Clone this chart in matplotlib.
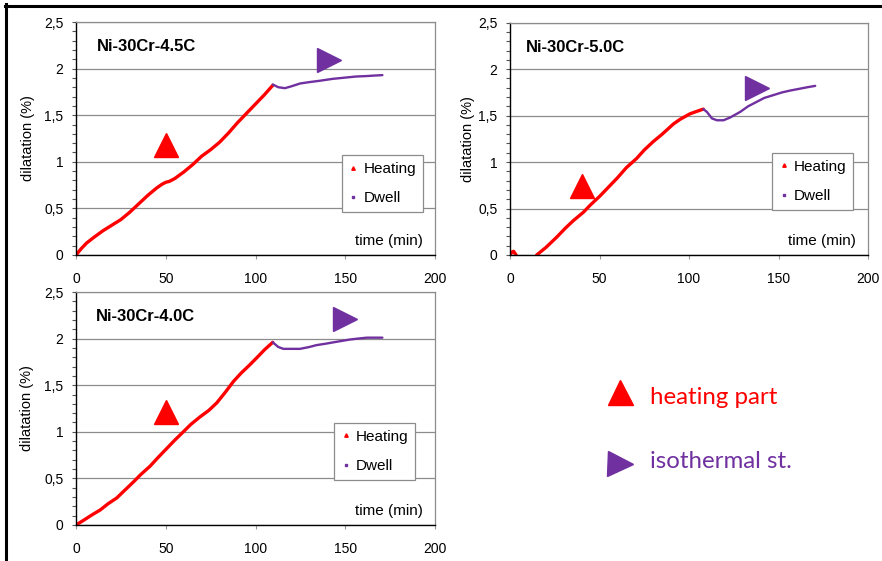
import numpy as np
import matplotlib
matplotlib.use("Agg")
import matplotlib.pyplot as plt
from matplotlib.lines import Line2D
from matplotlib.ticker import MultipleLocator, FuncFormatter

# ---- data: dilatation (%) versus time (min) ----
titles = ["Ni-30Cr-4.5C", "Ni-30Cr-5.0C", "Ni-30Cr-4.0C"]

# Ni-30Cr-4.5C
heat45_t = [0, 3, 6, 10, 15, 20, 25, 30, 35, 40, 45, 48, 50, 52, 55, 60, 65, 70, 75, 80, 85, 90, 95, 100, 105, 109.6]
heat45_d = [0, 0.07, 0.13, 0.19, 0.26, 0.32, 0.38, 0.46, 0.55, 0.64, 0.72, 0.76, 0.78, 0.79, 0.82, 0.89, 0.97, 1.06, 1.13, 1.21, 1.31, 1.42, 1.52, 1.62, 1.72, 1.82]
dwell45_t = [109.6, 112.7, 116.4, 120, 124.8, 130, 136, 143, 150.8, 156, 162, 166, 170.7]
dwell45_d = [1.83, 1.80, 1.79, 1.81, 1.84, 1.855, 1.87, 1.89, 1.905, 1.915, 1.92, 1.925, 1.93]

# Ni-30Cr-5.0C
heat50_t = [0, 1, 2, 3.4, np.nan, 14.9, 20, 26, 31, 35.4, 41, 45, 50, 55, 60, 65, 70.8, 75, 80, 85, 91.3, 95, 100.6, 105, 108]
heat50_d = [0, 0.03, 0.04, 0.0, np.nan, 0, 0.08, 0.19, 0.29, 0.37, 0.46, 0.54, 0.63, 0.73, 0.83, 0.94, 1.04, 1.13, 1.22, 1.30, 1.41, 1.46, 1.52, 1.55, 1.57]
dwell50_t = [108, 110, 112.8, 115.6, 119.3, 123, 128.6, 133, 138, 142, 147, 152, 156.6, 162, 166, 170.5]
dwell50_d = [1.57, 1.54, 1.47, 1.45, 1.45, 1.48, 1.54, 1.60, 1.65, 1.69, 1.72, 1.75, 1.77, 1.79, 1.805, 1.82]

# Ni-30Cr-4.0C
heat40_t = [0, 5, 9, 13.4, 18, 22.7, 27, 31.9, 36, 41.2, 46, 50.5, 55, 59.8, 64, 69.1, 74, 78.4, 83, 87.7, 92, 96.9, 101, 105, 109.6]
heat40_d = [0, 0.06, 0.11, 0.16, 0.23, 0.29, 0.37, 0.46, 0.54, 0.63, 0.73, 0.82, 0.91, 1.0, 1.08, 1.16, 1.23, 1.31, 1.42, 1.54, 1.63, 1.72, 1.80, 1.88, 1.96]
dwell40_t = [109.6, 112.7, 115.5, 120, 124.8, 130, 134, 139, 143.4, 148, 152.6, 157, 162, 166, 170.7]
dwell40_d = [1.96, 1.91, 1.89, 1.89, 1.89, 1.91, 1.93, 1.945, 1.96, 1.975, 1.99, 2.0, 2.01, 2.01, 2.01]

heating_t = [heat45_t, heat50_t, heat40_t]
heating_d = [heat45_d, heat50_d, heat40_d]
dwell_t = [dwell45_t, dwell50_t, dwell40_t]
dwell_d = [dwell45_d, dwell50_d, dwell40_d]

# stage markers (time, dilatation)
heat_mark = [(50, 1.18), (40, 0.74), (50, 1.21)]
iso_mark = [(141, 2.09), (138, 1.80), (150, 2.21)]

x_ticks = [0, 50, 100, 150, 200]
y_ticks = [0, 0.5, 1, 1.5, 2, 2.5]

RED = "#FF0000"
PURPLE = "#7030A0"
GRID = "#8C8C8C"

plt.rcParams["font.family"] = ["Liberation Sans", "DejaVu Sans"]

fig = plt.figure(figsize=(8.82, 5.61), dpi=100)
W, H = 882, 561

# axes rectangles in pixels: left, right, top, bottom
boxes = [(76, 435, 22, 255), (510, 868, 22.7, 255), (76, 435, 292, 525)]
label_gap = [41, 35, 42]
legend_anchor = [(0.741, 0.429), (0.732, 0.440), (0.719, 0.438)]
title_pos = [(0.058, 0.893), (0.045, 0.893), (0.056, 0.893)]


def comma(v, pos):
    s = f"{v:g}"
    return s.replace(".", ",")


for i in range(3):
    l, r, t, b = boxes[i]
    ax = fig.add_axes([l / W, 1 - b / H, (r - l) / W, (b - t) / H])
    ax.plot(heating_t[i], heating_d[i], color=RED, lw=2.4, solid_capstyle="round")
    ax.plot(dwell_t[i], dwell_d[i], color=PURPLE, lw=1.7, solid_capstyle="round")
    ax.plot(*heat_mark[i], marker="^", ms=17, color=RED, ls="none")
    ax.plot(*iso_mark[i], marker=">", ms=17, color=PURPLE, ls="none")

    ax.set_xlim(0, 200)
    ax.set_ylim(0, 2.5)
    ax.set_xticks(x_ticks)
    ax.set_yticks(y_ticks)
    ax.yaxis.set_minor_locator(MultipleLocator(0.1))
    ax.yaxis.set_major_formatter(FuncFormatter(comma))
    ax.grid(axis="y", color=GRID, lw=0.9)
    ax.set_axisbelow(True)
    for s in ("top", "right"):
        ax.spines[s].set_color(GRID)
        ax.spines[s].set_linewidth(0.9)
    for s in ("left", "bottom"):
        ax.spines[s].set_color("black")
        ax.spines[s].set_linewidth(1.0)
    ax.tick_params(axis="y", which="both", direction="out", length=3, width=0.8,
                   color="#555555", labelsize=10, pad=6)
    ax.tick_params(axis="x", direction="out", length=3, width=0.8,
                   color="#999999", labelsize=10, pad=9.5)
    ax.set_ylabel("dilatation (%)", fontsize=10.5)
    ax.yaxis.set_label_coords(-label_gap[i] / (r - l), 0.5)

    ax.text(*title_pos[i], titles[i], transform=ax.transAxes, fontsize=12,
            fontweight="bold", ha="left", va="center")
    ax.text(0.966, 0.06, "time (min)", transform=ax.transAxes, fontsize=11,
            ha="right", va="center")

    handles = [Line2D([], [], ls="none", marker="^", ms=2.5, color=RED),
               Line2D([], [], ls="none", marker="s", ms=2, color=PURPLE)]
    leg = ax.legend(handles, ["Heating", "Dwell"], loc="upper left",
                    bbox_to_anchor=legend_anchor[i], borderaxespad=0,
                    fontsize=11, frameon=True, fancybox=False,
                    edgecolor=GRID, framealpha=1, borderpad=0.45,
                    labelspacing=1.0, handlelength=0.6, handletextpad=0.35)
    leg.get_frame().set_linewidth(0.9)

# key for the stage markers
fig.add_artist(Line2D([620 / W], [1 - 392 / H], marker="^", ms=18, color=RED, ls="none"))
fig.add_artist(Line2D([620 / W], [1 - 464 / H], marker=">", ms=18, color=PURPLE, ls="none"))
fig.text(650 / W, 1 - 397 / H, "heating part", color=RED, fontsize=17.3,
         family=["Lato", "DejaVu Sans"], ha="left", va="center")
fig.text(650 / W, 1 - 462 / H, "isothermal st.", color=PURPLE, fontsize=17.3,
         family=["Lato", "DejaVu Sans"], ha="left", va="center")

# frame lines along the left and top edges
fig.add_artist(Line2D([5.5 / W, 5.5 / W], [0, 1 - 4 / H], color="black", lw=2.2))
fig.add_artist(Line2D([4.5 / W, 1], [1 - 5.5 / H, 1 - 5.5 / H], color="black", lw=2.2))

fig.savefig("out.png", dpi=100)
